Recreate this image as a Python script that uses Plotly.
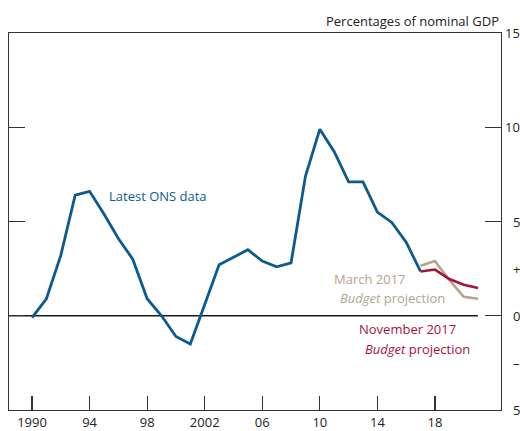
import plotly.graph_objects as go

# Data
ons_years = list(range(1990, 2018))
ons_values = [-0.1, 0.9, 3.2, 6.4, 6.6, 5.4, 4.1, 3.0, 0.9, 0.0,
              -1.1, -1.5, 0.6, 2.7, 3.1, 3.5, 2.9, 2.6, 2.8, 7.4,
              9.9, 8.7, 7.1, 7.1, 5.5, 4.95, 3.9, 2.35]
proj_years = [2017, 2018, 2019, 2020, 2021]
march_2017 = [2.65, 2.9, 1.9, 1.0, 0.9]
november_2017 = [2.35, 2.45, 1.95, 1.65, 1.47]

x_tick_vals = [1990, 1994, 1998, 2002, 2006, 2010, 2014, 2018]
x_tick_text = ["1990", "94", "98", "2002", "06", "10", "14", "18"]
y_tick_vals = [15, 10, 5, 2.5, 0, -2.5, -5]
y_tick_text = ["15", "10", "5", "+", "0", "\u2013", "5"]
y_major_ticks = [15, 10, 5, 0, -5]

BLUE = "#0d5a91"
TAN = "#b7a48c"
RED = "#a8123e"
FONT = "Open Sans"
TEXT = "#222222"

fig = go.Figure()
fig.add_trace(go.Scatter(x=proj_years, y=march_2017, mode="lines",
                         line=dict(color=TAN, width=2.6)))
fig.add_trace(go.Scatter(x=proj_years, y=november_2017, mode="lines",
                         line=dict(color=RED, width=2.6)))
fig.add_trace(go.Scatter(x=ons_years, y=ons_values, mode="lines",
                         line=dict(color=BLUE, width=2.8)))

# zero line (stops short of the right-hand tick)
fig.add_shape(type="line", xref="paper", yref="y", x0=0, x1=0.953, y0=0, y1=0,
              line=dict(color="#1a1a1a", width=1.3), layer="below")

annotations = [
    dict(text="Percentages of nominal GDP", xref="paper", yref="paper",
         x=1.0, y=1.0, yshift=12, xanchor="right", yanchor="middle",
         showarrow=False, font=dict(family=FONT, size=13, color=TEXT)),
    dict(text="Latest ONS data", xref="paper", yref="paper",
         x=(107 - 9) / 492, y=(410 - 195.5) / 377, xanchor="left", yanchor="middle",
         showarrow=False, font=dict(family=FONT, size=13, color=BLUE)),
    dict(text="March 2017", xref="paper", yref="paper",
         x=(332 - 9) / 492, y=(410 - 279) / 377, xanchor="left", yanchor="middle",
         showarrow=False, font=dict(family=FONT, size=13, color=TAN)),
    dict(text="<i>Budget</i> projection", xref="paper", yref="paper",
         x=(338 - 9) / 492, y=(410 - 297.5) / 377, xanchor="left", yanchor="middle",
         showarrow=False, font=dict(family=FONT, size=13, color=TAN)),
    dict(text="November 2017", xref="paper", yref="paper",
         x=(357 - 9) / 492, y=(410 - 329) / 377, xanchor="left", yanchor="middle",
         showarrow=False, font=dict(family=FONT, size=13, color=RED)),
    dict(text="<i>Budget</i> projection", xref="paper", yref="paper",
         x=(363 - 9) / 492, y=(410 - 348.5) / 377, xanchor="left", yanchor="middle",
         showarrow=False, font=dict(family=FONT, size=13, color=RED)),
]
# right-hand value labels, right-aligned just past the frame
for v, t in zip(y_tick_vals, y_tick_text):
    annotations.append(dict(text=t, xref="paper", yref="y", x=(521 - 9) / 492, y=v,
                            xanchor="right", yanchor="middle", showarrow=False,
                            borderpad=0, font=dict(family=FONT, size=13, color=TEXT)))

fig.update_layout(
    width=520, height=431,
    margin=dict(l=9, r=19, t=33, b=21, autoexpand=False),
    paper_bgcolor="white", plot_bgcolor="white",
    showlegend=False,
    hovermode=False,
    font=dict(family=FONT, size=13, color=TEXT),
    xaxis=dict(range=[1988.40, 2022.59], tickvals=x_tick_vals, ticktext=x_tick_text,
               ticks="inside", ticklen=14, tickwidth=1.2, tickcolor="#333333",
               showline=True, linecolor="#333333", linewidth=1.2, mirror=True,
               showgrid=False, zeroline=False, automargin=False,
               tickfont=dict(family=FONT, size=13, color=TEXT)),
    yaxis=dict(range=[-5, 15], tickvals=y_major_ticks, showticklabels=False,
               side="right", ticks="inside", ticklen=16, tickwidth=1.2, tickcolor="#333333",
               showline=True, linecolor="#333333", linewidth=1.2, mirror="ticks",
               showgrid=False, zeroline=False, automargin=False),
    annotations=annotations,
)

# remove the page's default body margin so the 520x431 figure fills the window exactly
fig.write_html("out.html",
               config={"displayModeBar": False, "staticPlot": True},
               post_script="document.body.style.margin='0';document.body.style.overflow='hidden';")
